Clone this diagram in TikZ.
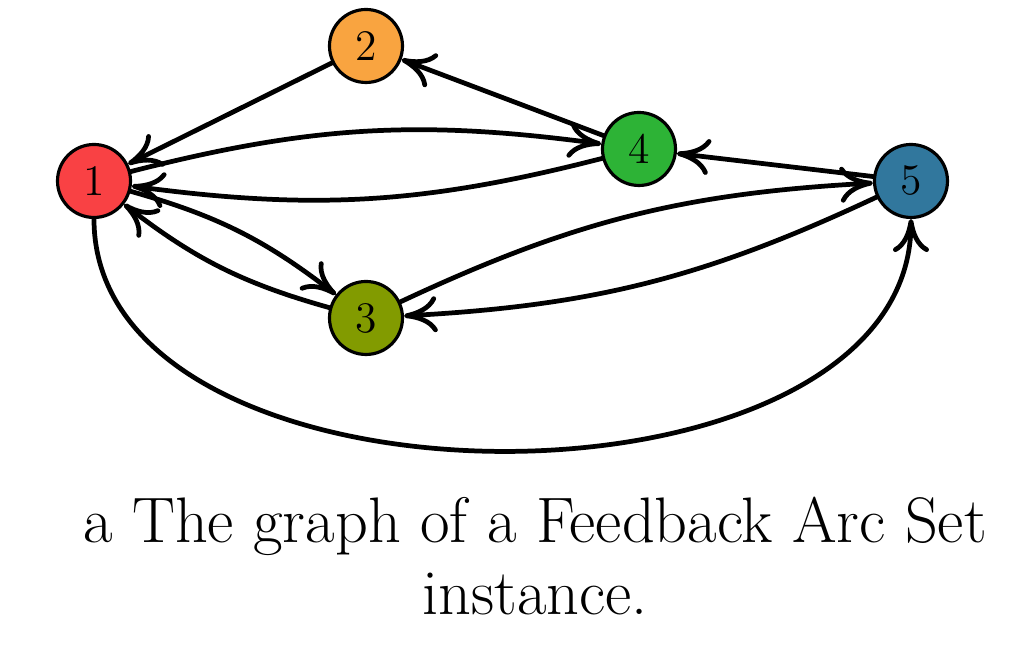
\documentclass[tikz,border=0pt]{standalone}
\usetikzlibrary{arrows.meta}
\definecolor{cred}{HTML}{F94144}
\definecolor{corange}{HTML}{F9A440}
\definecolor{colive}{HTML}{829B00}
\definecolor{cgreen}{HTML}{2DB336}
\definecolor{cblue}{HTML}{31779D}
\tikzset{
  vert/.style={circle, draw=black, line width=0.9pt, minimum size=0.73cm, inner sep=0pt, font=\fontsize{12.4}{14}\selectfont},
  arc/.style={line width=1.35pt, -{Computer Modern Rightarrow[length=3.3mm,width=3.6mm,line width=1.35pt]}, line cap=round},
}
\begin{document}
\begin{tikzpicture}
\useasboundingbox (0,0) rectangle (10.32,-6.48);
\node[vert, fill=cred]    (n1) at (0.94,-1.81) {1};
\node[vert, fill=corange] (n2) at (3.66,-0.46) {2};
\node[vert, fill=colive]  (n3) at (3.66,-3.18) {3};
\node[vert, fill=cgreen]  (n4) at (6.39,-1.49) {4};
\node[vert, fill=cblue]   (n5) at (9.11,-1.81) {5};
\draw[arc] (n2) -- (n1);
\draw[arc] (n4) -- (n2);
\draw[arc] (n5) -- (n4);
\draw[arc] (n1) to[bend left=11] (n4);
\draw[arc] (n4) to[bend left=11] (n1);
\draw[arc] (n1) to[bend left=11] (n3);
\draw[arc] (n3) to[bend left=11] (n1);
\draw[arc] (n3) to[bend left=11] (n5);
\draw[arc] (n5) to[bend left=11] (n3);
\draw[arc] (n1.south) to[out=-90,in=-90,looseness=0.97] (n5.south);
\node[align=center, inner sep=0pt, anchor=base, font=\fontsize{18.3}{20.5}\selectfont] (cap) at (5.35,-6.15) {a The graph of a Feedback Arc Set\\instance.};
\end{tikzpicture}
\end{document}
